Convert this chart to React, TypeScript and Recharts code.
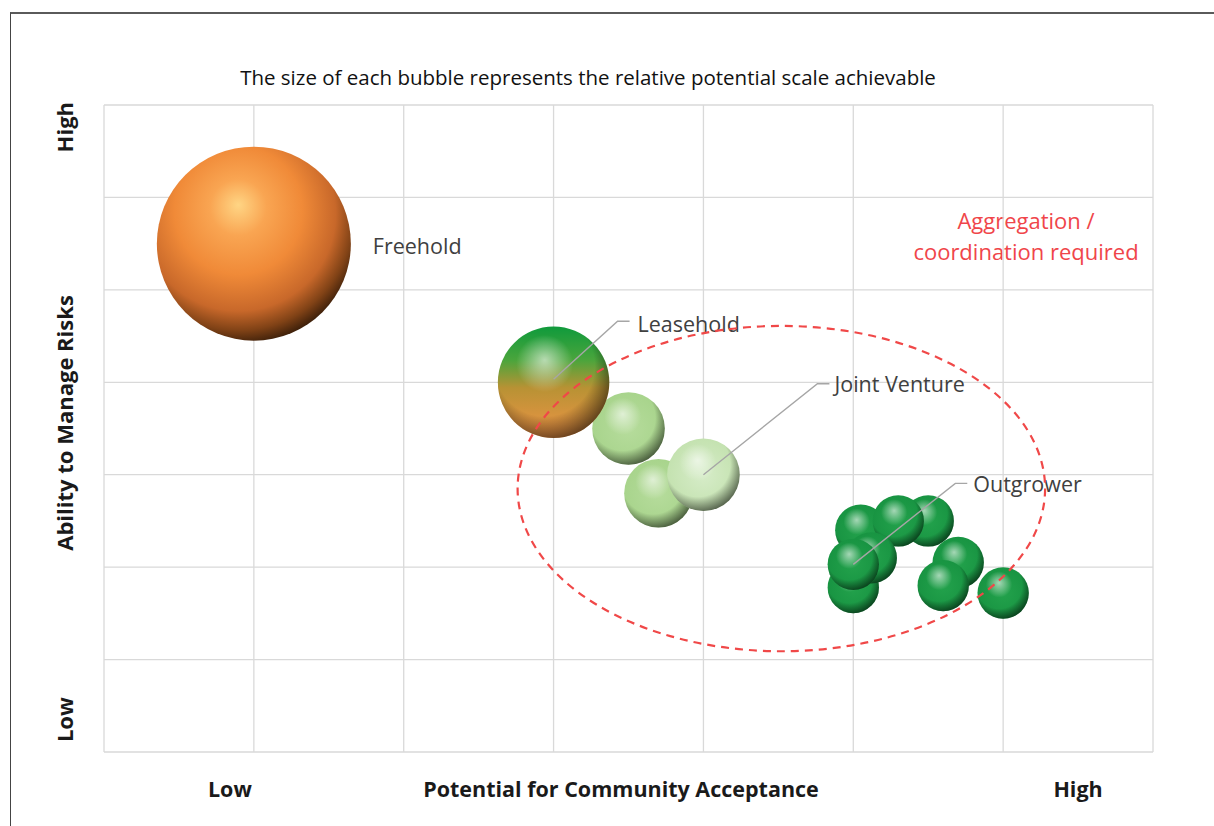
import { CartesianGrid, ReferenceArea, Scatter, ScatterChart, XAxis, YAxis, ZAxis } from 'recharts';

// axis grid (7 x 7 cells) and the text "ticks" along the axes
const gridTicks = [0, 1, 2, 3, 4, 5, 6, 7];
const xLabelTicks = [0.84, 3.45, 6.5];
const xLabelTexts = ['Low', 'Potential for Community Acceptance', 'High'];
const yLabelTicks = [0.35, 3.56, 6.76];
const yLabelTexts = ['Low', 'Ability to Manage Risks', 'High'];

type Bubble = { x: number; y: number; z: number; label?: string };

// z = relative potential scale achievable (bubble area)
const freehold: Bubble[] = [{ x: 1, y: 5.5, z: 100, label: 'Freehold' }];
const leasehold: Bubble[] = [{ x: 3, y: 4, z: 33, label: 'Leasehold' }];
const jointVentureA: Bubble[] = [
  { x: 3.5, y: 3.5, z: 14 },
  { x: 3.7, y: 2.8, z: 12.5 },
];
const jointVentureB: Bubble[] = [{ x: 4, y: 3, z: 14, label: 'Joint Venture' }];
const outgrower: Bubble[] = [
  { x: 5.5, y: 2.5, z: 7 },
  { x: 5.05, y: 2.4, z: 7 },
  { x: 5.3, y: 2.5, z: 7 },
  { x: 5.7, y: 2.05, z: 7 },
  { x: 5.6, y: 1.8, z: 7 },
  { x: 5.0, y: 1.78, z: 7 },
  { x: 5.12, y: 2.1, z: 7 },
  { x: 5.0, y: 2.03, z: 7, label: 'Outgrower' },
  { x: 6.0, y: 1.72, z: 7 },
];

// dashed "aggregation" zone
const zoneX = [2.76, 6.28];
const zoneY = [1.09, 4.61];

const labelled = [...freehold, ...leasehold, ...jointVentureB, ...outgrower].filter((d) => d.label);

// leader lines (pixel offsets from bubble centre) and text offsets
const leaders: Record<string, { pts: number[][]; tx: number; ty: number }> = {
  Freehold: { pts: [], tx: 119, ty: 2 },
  Leasehold: { pts: [[0, -3], [64, -61], [76, -61]], tx: 84, ty: -59 },
  'Joint Venture': { pts: [[0, 0], [114, -91], [126, -91]], tx: 131, ty: -91 },
  Outgrower: { pts: [[0, 0], [102, -81], [114, -81]], tx: 120, ty: -81 },
};

const FONT = '"Open Sans", sans-serif';

function Sphere(props: any) {
  const { cx, cy, size, base } = props;
  const r = Math.sqrt(Math.max(size, 0) / Math.PI);
  return (
    <g>
      <circle cx={cx} cy={cy} r={r} fill={`url(#${base})`} />
      {base !== 'orangeFill' && <circle cx={cx} cy={cy} r={r} fill="url(#shade)" />}
    </g>
  );
}

function Leader(props: any) {
  const { cx, cy, payload } = props;
  const l = leaders[payload.label];
  if (!l) return null;
  return (
    <g>
      {l.pts.length > 0 && (
        <polyline
          points={l.pts.map((p) => `${cx + p[0]},${cy + p[1]}`).join(' ')}
          fill="none"
          stroke="#a6a6a6"
          strokeWidth={1.4}
        />
      )}
      <text x={cx + l.tx} y={cy + l.ty} dominantBaseline="central" fontFamily={FONT} fontSize={21.5} fill="#404040">
        {payload.label}
      </text>
    </g>
  );
}

function XTick(props: any) {
  const { x, payload, index } = props;
  return (
    <text x={x} y={788} textAnchor="middle" dominantBaseline="central" fontFamily={FONT} fontWeight={700} fontSize={21.5} fill="#1a1a1a">
      {xLabelTexts[index] ?? payload.value}
    </text>
  );
}

function YTick(props: any) {
  const { y, payload, index } = props;
  const tx = 64;
  return (
    <text x={tx} y={y} textAnchor="middle" dominantBaseline="central" transform={`rotate(-90, ${tx}, ${y})`} fontFamily={FONT} fontWeight={700} fontSize={22} fill="#1a1a1a">
      {yLabelTexts[index] ?? payload.value}
    </text>
  );
}

function Zone(props: any) {
  const { x, y, width, height } = props;
  return (
    <ellipse cx={x + width / 2} cy={y + height / 2} rx={width / 2} ry={height / 2} fill="none" stroke="#f04848" strokeWidth={2.2} strokeDasharray="8 6" />
  );
}

function Gradients() {
  return (
    <svg width={0} height={0} style={{ position: 'absolute' }}>
      <defs>
        <radialGradient id="orangeFill" cx="0.42" cy="0.36" r="0.66" fx="0.42" fy="0.3">
          <stop offset="0" stopColor="#ffd584" />
          <stop offset="0.22" stopColor="#f9a552" />
          <stop offset="0.5" stopColor="#f08a38" />
          <stop offset="0.76" stopColor="#c8682a" />
          <stop offset="0.9" stopColor="#804216" />
          <stop offset="1" stopColor="#3e200a" />
        </radialGradient>
        <linearGradient id="leaseFill" x1="0" y1="0" x2="0" y2="1">
          <stop offset="0" stopColor="#0f9a3c" />
          <stop offset="0.3" stopColor="#4aa53c" />
          <stop offset="0.55" stopColor="#b89234" />
          <stop offset="1" stopColor="#ef9446" />
        </linearGradient>
        <radialGradient id="lightFill">
          <stop offset="0" stopColor="#b6dc9c" />
          <stop offset="1" stopColor="#a8d48c" />
        </radialGradient>
        <radialGradient id="paleFill">
          <stop offset="0" stopColor="#d6ecc8" />
          <stop offset="1" stopColor="#c4e2b0" />
        </radialGradient>
        <radialGradient id="greenFill">
          <stop offset="0" stopColor="#23a24c" />
          <stop offset="1" stopColor="#189442" />
        </radialGradient>
        <radialGradient id="shade" cx="0.42" cy="0.38" r="0.64" fx="0.42" fy="0.3">
          <stop offset="0" stopColor="#ffffff" stopOpacity={0.6} />
          <stop offset="0.4" stopColor="#ffffff" stopOpacity={0} />
          <stop offset="0.7" stopColor="#000000" stopOpacity={0} />
          <stop offset="1" stopColor="#000000" stopOpacity={0.55} />
        </radialGradient>
      </defs>
    </svg>
  );
}

export default function App() {
  return (
    <div style={{ position: 'absolute', left: 0, top: 0, width: 1214, height: 826, background: '#fff', fontFamily: FONT }}>
      <Gradients />
      <div style={{ position: 'absolute', left: 10, top: 12, right: 0, bottom: 0, borderTop: '2px solid #5a5a5a', borderLeft: '1.5px solid #444' }} />
      <div style={{ position: 'absolute', left: 0, width: 1176, top: 65, lineHeight: '24px', textAlign: 'center', fontSize: 20.5, color: '#111' }}>
        The size of each bubble represents the relative potential scale achievable
      </div>
      <div style={{ position: 'absolute', left: 876, width: 300, top: 205, lineHeight: '31px', textAlign: 'center', fontSize: 22, color: '#f0454a' }}>
        Aggregation /<br />coordination required
      </div>
      <ScatterChart width={1214} height={826} margin={{ top: 105, right: 61, bottom: 14, left: 24 }}>
        <XAxis xAxisId="g" type="number" dataKey="x" domain={[0, 7]} ticks={gridTicks} hide />
        <YAxis yAxisId="g" type="number" dataKey="y" domain={[0, 7]} ticks={gridTicks} hide />
        <ZAxis zAxisId="g" type="number" dataKey="z" domain={[0, 100]} range={[0, Math.PI * 97 * 97]} />
        <XAxis xAxisId="lab" type="number" dataKey="x" domain={[0, 7]} ticks={xLabelTicks} height={60} axisLine={false} tickLine={false} tick={<XTick />} interval={0} />
        <YAxis yAxisId="lab" type="number" dataKey="y" domain={[0, 7]} ticks={yLabelTicks} width={80} axisLine={false} tickLine={false} tick={<YTick />} interval={0} />
        <CartesianGrid xAxisId="g" yAxisId="g" stroke="#d9d9d9" strokeWidth={1.3} />
        <Scatter name="axis anchor" data={labelled} xAxisId="lab" yAxisId="lab" zAxisId="g" isAnimationActive={false} fill="none" shape={() => <g />} />
        <Scatter name="Freehold" data={freehold} xAxisId="g" yAxisId="g" zAxisId="g" isAnimationActive={false} shape={(p: any) => <Sphere {...p} base="orangeFill" />} />
        <Scatter name="Joint Venture" data={jointVentureA} xAxisId="g" yAxisId="g" zAxisId="g" isAnimationActive={false} shape={(p: any) => <Sphere {...p} base="lightFill" />} />
        <Scatter name="Joint Venture main" data={jointVentureB} xAxisId="g" yAxisId="g" zAxisId="g" isAnimationActive={false} shape={(p: any) => <Sphere {...p} base="paleFill" />} />
        <Scatter name="Leasehold" data={leasehold} xAxisId="g" yAxisId="g" zAxisId="g" isAnimationActive={false} shape={(p: any) => <Sphere {...p} base="leaseFill" />} />
        <Scatter name="Outgrower" data={outgrower} xAxisId="g" yAxisId="g" zAxisId="g" isAnimationActive={false} shape={(p: any) => <Sphere {...p} base="greenFill" />} />
        <ReferenceArea xAxisId="g" yAxisId="g" x1={zoneX[0]} x2={zoneX[1]} y1={zoneY[0]} y2={zoneY[1]} shape={<Zone />} zIndex={2000} />
        <Scatter name="labels" data={labelled} xAxisId="g" yAxisId="g" zAxisId="g" isAnimationActive={false} shape={(p: any) => <Leader {...p} />} />
      </ScatterChart>
    </div>
  );
}
